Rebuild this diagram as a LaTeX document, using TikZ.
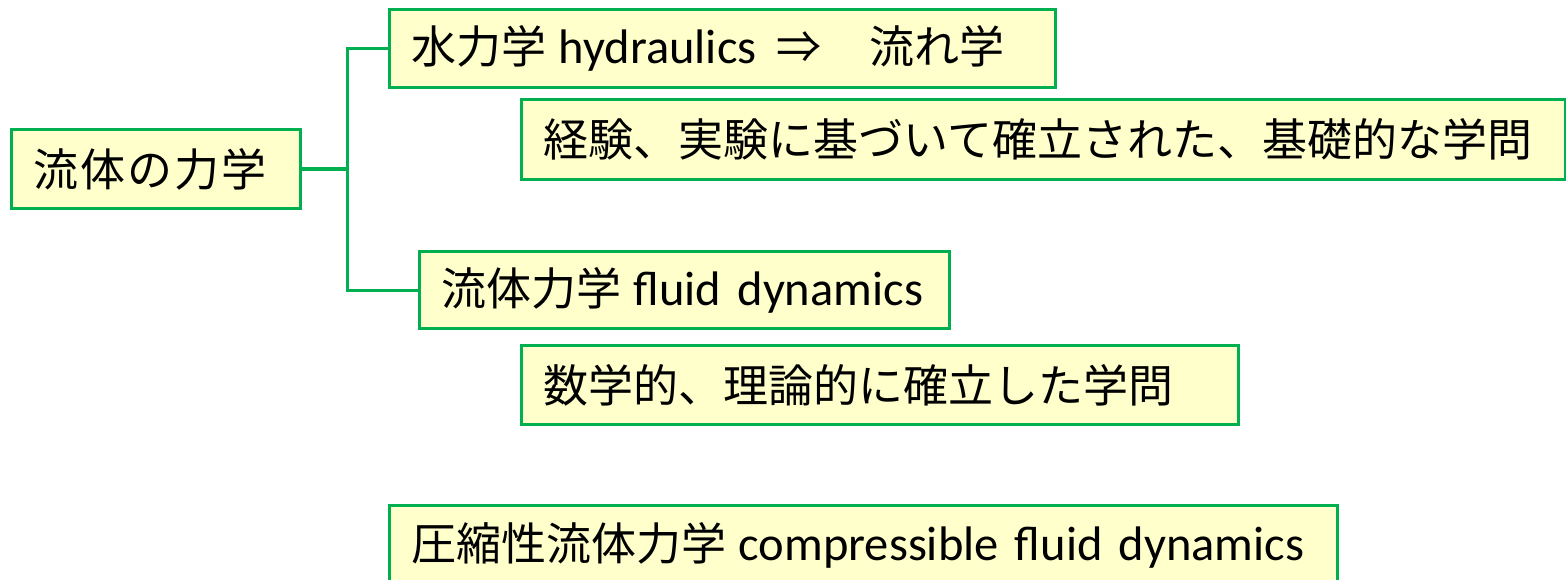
\documentclass[tikz,border=0pt]{standalone}
\usepackage{fontspec}
\setmainfont{Carlito}
\newfontfamily\jp{Noto Sans CJK JP}
\definecolor{boxgreen}{HTML}{00B050}
\definecolor{boxfill}{HTML}{FFFFCC}
\newcommand{\J}[1]{{\jp\fontsize{45}{50}\selectfont #1}}
\begin{document}
\begin{tikzpicture}[x=1pt,y=-1pt,
  box/.style={draw=boxgreen, fill=boxfill, line width=3.4pt, anchor=north west,
    inner xsep=22pt, inner ysep=0pt, align=left, font=\fontsize{48.5}{52}\selectfont},
  conn/.style={draw=boxgreen, line width=3.4pt}]
\useasboundingbox (0,0) rectangle (1566,580);
\newcommand{\bx}[6]{\node[box, minimum width=#4pt, minimum height=#5pt, text width=#4pt-44pt] (#1) at (#2,#3) {#6};}
\bx{root}{10}{128}{289}{79}{\jp\fontsize{45}{50}\selectfont 流\kern2pt 体\kern2pt の\kern2pt 力\kern2pt 学}
\bx{hyd}{388}{8}{666}{78}{\J{水力学}\hspace{12pt}hydraulics\hspace{20pt}\J{⇒}\hspace{48pt}\J{流れ学}}
\bx{emp}{520}{98}{1044}{80}{\jp\fontsize{45}{50}\selectfont 経験、実験に基づいて確立された、基礎的な学問}
\bx{fl}{418}{250}{530}{77}{\J{流体力学}\hspace{12pt}fluid dynamics}
\bx{math}{520}{344}{717}{79}{\J{数学的、理論的に確立した学問}}
\bx{comp}{388}{504}{948}{80}{\J{圧縮性流体力学}\hspace{12pt}compressible fluid dynamics}
\coordinate (j) at ([xshift=45pt]root.east);
\draw[conn] (root.east) -- (j);
\draw[conn] (hyd.west) -| (j) |- (fl.west);
\end{tikzpicture}
\end{document}
